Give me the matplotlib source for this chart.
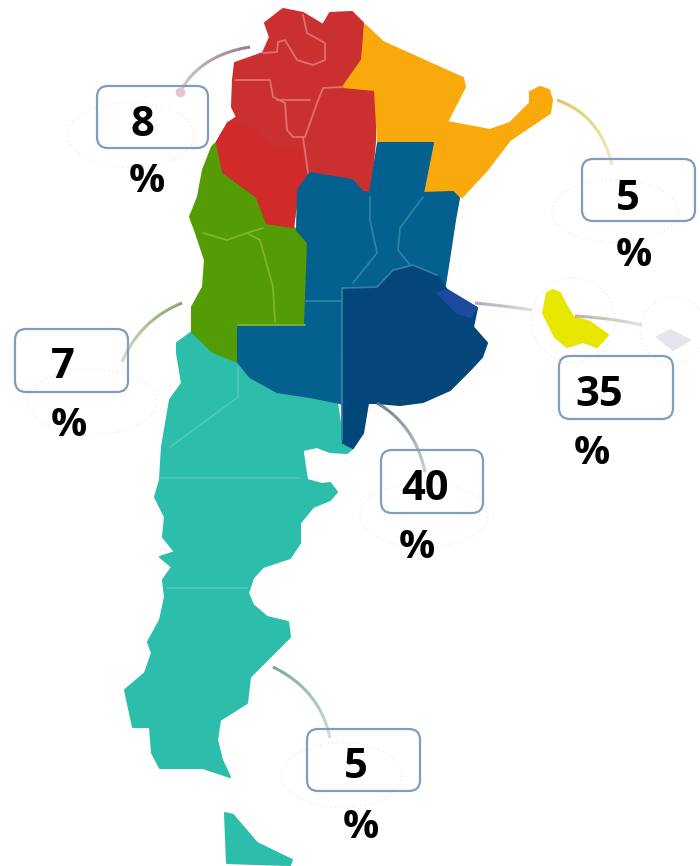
import numpy as np
import matplotlib.pyplot as plt
from matplotlib.collections import LineCollection
from matplotlib.colors import to_rgb
from matplotlib.patches import Ellipse, FancyBboxPatch, Polygon

# region outlines in pixels
noa = [(283, 9), (303, 13), (323, 25), (330, 13), (352, 12), (363, 23), (362, 60), (343, 87), (375, 90),
       (375, 142), (370, 193), (363, 192), (352, 180), (310, 173), (298, 190), (293, 227), (267, 223),
       (257, 197), (223, 172), (217, 142), (228, 123), (237, 117), (232, 107), (233, 80), (235, 63),
       (263, 53), (270, 37), (265, 23)]
la_rioja = [(217, 142), (228, 123), (250, 128), (275, 150), (300, 150), (305, 175), (298, 190), (293, 227),
            (267, 223), (257, 197), (223, 172)]
nea = [(365, 25), (383, 42), (423, 60), (463, 78), (465, 87), (447, 122), (490, 130), (510, 123), (530, 103),
       (530, 92), (540, 87), (549, 90), (552, 100), (550, 113), (510, 140), (487, 170), (462, 197), (453, 192),
       (423, 193), (433, 143), (378, 142), (375, 90), (343, 87), (362, 60)]
cuyo = [(212, 147), (217, 142), (223, 172), (257, 197), (267, 223), (293, 227), (297, 230), (308, 243),
        (305, 325), (238, 327), (238, 362), (213, 352), (192, 332), (192, 307), (203, 287), (205, 260),
        (195, 230), (190, 217), (198, 197), (203, 170)]
centro = [(378, 143), (433, 143), (423, 193), (453, 192), (459, 198), (455, 220), (450, 253), (445, 285),
          (400, 300), (350, 410), (340, 403), (310, 397), (277, 392), (250, 377), (238, 362), (238, 327),
          (305, 325), (308, 243), (297, 230), (298, 190), (310, 173), (352, 180), (363, 192), (370, 193)]
buenos_aires = [(342, 288), (377, 287), (393, 270), (413, 265), (437, 275), (447, 290), (477, 308), (473, 327),
                (487, 343), (482, 357), (470, 370), (450, 390), (423, 402), (400, 405), (377, 403), (368, 403),
                (363, 433), (353, 448), (343, 443), (342, 353)]
caba = [(437, 293), (447, 290), (477, 308), (470, 317), (457, 313)]
patagonia = [(177, 343), (192, 332), (213, 352), (238, 362), (250, 377), (277, 392), (310, 397), (337, 403),
             (343, 443), (353, 448), (347, 453), (330, 452), (317, 447), (303, 450), (303, 453), (307, 480),
             (322, 484), (330, 483), (337, 492), (330, 500), (313, 507), (300, 523), (300, 543), (290, 558),
             (263, 567), (253, 578), (248, 593), (253, 605), (267, 617), (288, 622), (290, 637), (270, 657),
             (250, 677), (247, 703), (220, 720), (217, 740), (222, 760), (230, 777), (203, 768), (160, 768),
             (152, 753), (150, 727), (133, 727), (125, 690), (145, 673), (152, 653), (148, 642), (160, 620),
             (165, 597), (163, 580), (172, 567), (160, 557), (175, 552), (163, 537), (165, 517), (155, 497),
             (160, 480), (162, 447), (170, 400), (182, 383), (177, 353)]
tierra = [(225, 813), (233, 815), (257, 843), (292, 860), (290, 865), (227, 863)]
yellow_icon = [(547, 293), (553, 290), (560, 293), (566, 305), (573, 317), (590, 322), (608, 335), (597, 347),
               (583, 342), (567, 347), (555, 337), (543, 313)]
grey_icon = [(657, 337), (670, 330), (690, 340), (673, 350)]

# province borders
red_lines = [[(303, 15), (307, 33), (325, 43), (325, 60), (313, 65), (297, 60), (285, 40), (278, 42), (277, 52), (263, 53)],
             [(235, 80), (270, 80), (273, 97), (285, 103), (287, 130), (293, 137), (305, 137), (317, 103), (323, 88), (343, 87)],
             [(277, 100), (290, 100), (310, 100)],
             [(303, 137), (308, 173)]]
blue_lines = [[(370, 197), (370, 220), (377, 253), (353, 283)],
              [(423, 197), (400, 228), (398, 250), (410, 265)],
              [(305, 301), (342, 301)],
              [(342, 288), (342, 440)],
              [(342, 288), (377, 287), (393, 270), (413, 265), (437, 275)]]
green_lines = [[(203, 233), (227, 240), (247, 233), (260, 240), (273, 287), (275, 322)],
               [(247, 233), (263, 228)],
               [(238, 325), (305, 325)]]
teal_lines = [[(238, 367), (238, 397), (203, 423), (170, 447)],
              [(160, 478), (300, 478)],
              [(167, 588), (247, 588)]]

# labels: value, box (left, top, right, bottom), value centre, percent centre
values = ["8", "5", "35", "7", "40", "5"]
boxes = [(97, 86, 208, 148), (582, 159, 695, 221), (559, 356, 673, 419),
         (15, 329, 128, 392), (381, 450, 483, 513), (307, 729, 420, 791)]
value_pos = [(142, 125), (628, 199), (599, 396), (63, 368), (425, 489), (356, 768)]
percent_pos = [(147, 182), (634, 256), (592, 453), (69, 426), (417, 547), (361, 827)]

# faint dotted rings: centre x, centre y, width, height
rings = [(131, 135, 127, 65), (615, 211, 126, 63), (92, 402, 129, 65), (424, 515, 128, 65),
         (342, 775, 120, 65), (573, 320, 84, 84), (673, 330, 66, 66)]

# connectors: start, control, end, colour
connectors = [((250, 47), (200, 55), (180, 92), "#8f6f80"),
              ((557, 100), (600, 115), (612, 165), "#d8c34a"),
              ((475, 303), (505, 306), (532, 310), "#a89cb0"),
              ((575, 316), (610, 318), (642, 325), "#b0a8a0"),
              ((182, 303), (140, 320), (122, 362), "#7f9a5c"),
              ((377, 403), (415, 425), (425, 472), "#5f7282"),
              ((273, 667), (320, 690), (330, 738), "#6f9f98")]

fig = plt.figure(figsize=(7, 8.66), dpi=100)
ax = fig.add_axes([0, 0, 1, 1])
ax.set_xlim(0, 700)
ax.set_ylim(866, 0)
ax.axis("off")


def fill(points, color, z=2):
    ax.add_patch(Polygon(points, closed=True, facecolor=color, edgecolor=color, lw=1.5,
                         joinstyle="round", zorder=z))


def borders(lines, color, lw=1.3):
    for line in lines:
        xs, ys = zip(*line)
        ax.plot(xs, ys, color=color, lw=lw, zorder=4, solid_capstyle="round")


def connector(start, ctrl, end, color):
    t = np.linspace(0, 1, 40)[:, None]
    pts = (1 - t) ** 2 * np.array(start) + 2 * t * (1 - t) * np.array(ctrl) + t ** 2 * np.array(end)
    segs = np.stack([pts[:-1], pts[1:]], axis=1)
    rgb = to_rgb(color)
    alpha = np.linspace(0.95, 0.35, len(segs))
    colors = [(*rgb, a) for a in alpha]
    ax.add_collection(LineCollection(segs, colors=colors, linewidths=2.2, zorder=5))


for x, y, w, h in rings:
    ax.add_patch(Ellipse((x, y), w, h, fill=False, edgecolor="#ececec", lw=1, ls=(0, (1, 2)), zorder=1))

fill(patagonia, "#2cbdab")
fill(tierra, "#2cbdab")
fill(cuyo, "#539c05")
fill(noa, "#cb3030")
fill(la_rioja, "#d02a2a", 2.5)
fill(nea, "#f9a90c")
fill(centro, "#04608f", 3)
fill(buenos_aires, "#03467a", 3.2)
fill(caba, "#1c4a9c", 3.4)
fill(yellow_icon, "#e6e600")
fill(grey_icon, "#e4e4ec")

borders(red_lines, "#e07070")
borders(blue_lines, "#2f82a6")
borders(green_lines, "#7fb52c")
borders(teal_lines, "#4cc8b8")

for start, ctrl, end, color in connectors:
    connector(start, ctrl, end, color)
ax.plot([180], [92], "o", ms=6, color="#e8c4d2", zorder=6)

for (left, top, right, bottom) in boxes:
    ax.add_patch(FancyBboxPatch((left + 9, top + 9), right - left - 18, bottom - top - 18,
                                boxstyle="round,pad=9,rounding_size=11", fill=False,
                                edgecolor="#7f9dbd", lw=1.6, zorder=7))

for value, vpos, ppos in zip(values, value_pos, percent_pos):
    ax.text(vpos[0], vpos[1], value, family="Open Sans", weight="bold", fontsize=30, color="black",
            ha="center", va="center", zorder=8)
    ax.text(ppos[0], ppos[1], "%", family="Open Sans", weight="bold", fontsize=29, color="black",
            ha="center", va="center", zorder=8)

fig.savefig("out.png", dpi=100, facecolor="white")
